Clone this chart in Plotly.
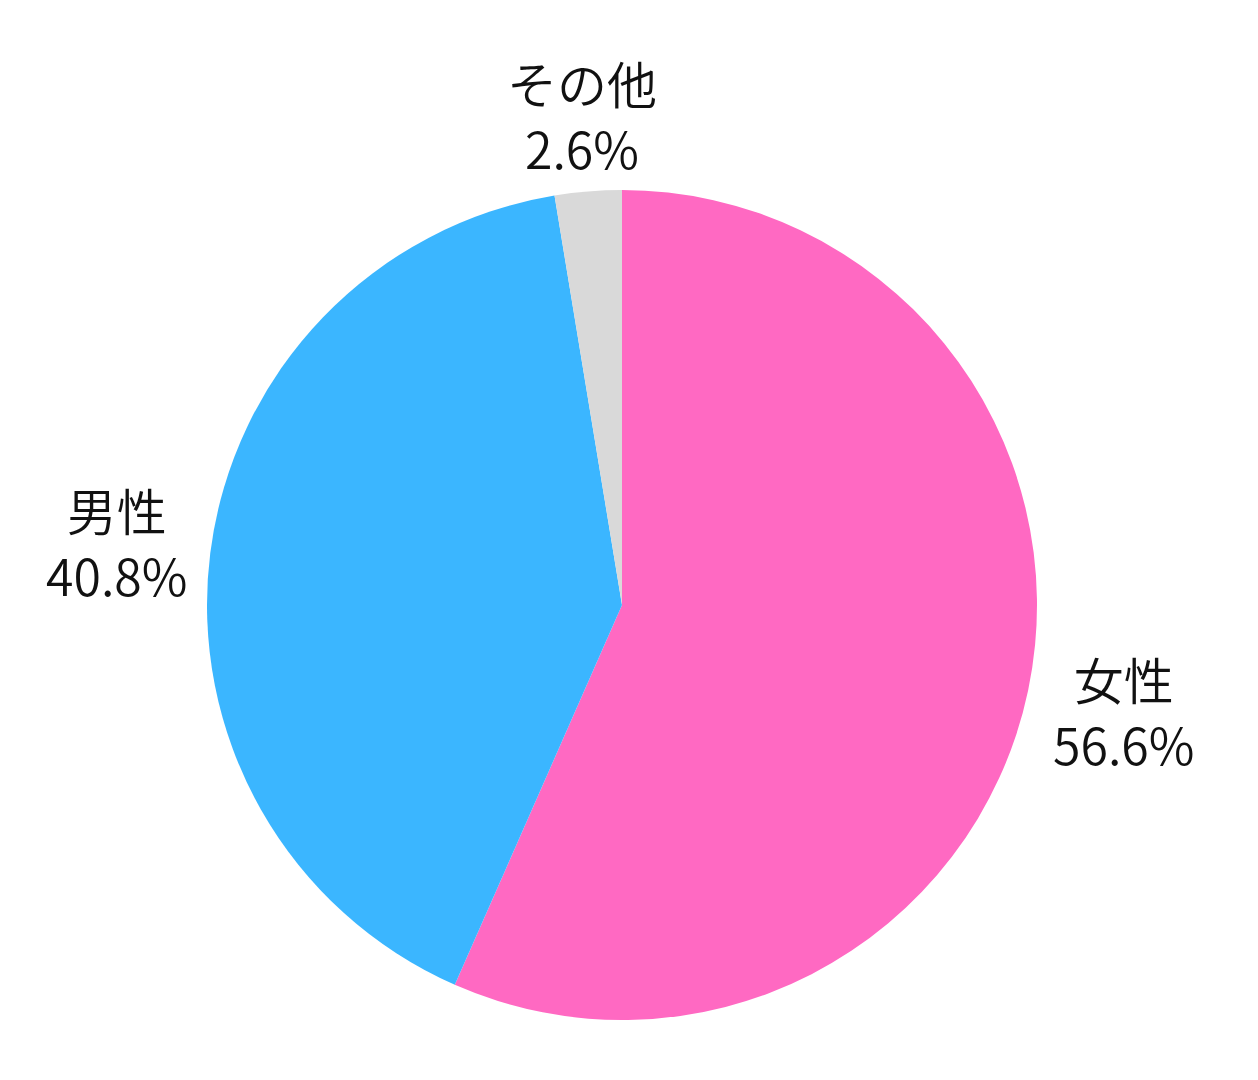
import math
import plotly.graph_objects as go

labels = ["女性", "男性", "その他"]
values = [56.6, 40.8, 2.6]
colors = ["#FF69C2", "#3BB6FF", "#D9D9D9"]

W, H = 1258, 1080
cx, cy, R = 614, 597, 415  # pie centre and radius in pixels (page adds ~7px offset)

fig = go.Figure()
fig.add_trace(go.Pie(
    labels=labels, values=values,
    sort=False, direction="clockwise", rotation=0,
    marker=dict(colors=colors, line=dict(width=0)),
    textinfo="none", hoverinfo="label+percent",
    showlegend=False,
    domain=dict(x=[(cx - R) / W, (cx + R) / W], y=[1 - (cy + R) / H, 1 - (cy - R) / H]),
))

# outside labels placed radially at the middle of each slice
total = sum(values)
cum = 0
annotations = []
for lab, v in zip(labels, values):
    mid = (cum + v / 2) / total * 2 * math.pi
    cum += v
    dx, dy = math.sin(mid), math.cos(mid)
    dist = R + 16 + abs(dx) * 72 + abs(dy) * 55
    px = cx + dx * dist
    py = cy - dy * dist
    annotations.append(dict(
        x=px / W, y=1 - py / H, xref="paper", yref="paper",
        text=f"{lab}<br>{v:.1f}%", showarrow=False,
        xanchor="center", yanchor="middle", align="center",
        font=dict(size=50, color="#111111", family="Noto Sans CJK JP", weight=350),
    ))

fig.update_layout(
    width=W, height=H,
    margin=dict(l=0, r=0, t=0, b=0),
    paper_bgcolor="white",
    font=dict(family="Noto Sans CJK JP"),
    annotations=annotations,
)

fig.write_html("out.html")
